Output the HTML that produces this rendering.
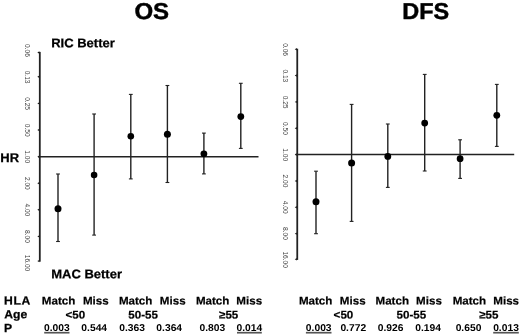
<!DOCTYPE html>
<html lang="en"><head><meta charset="utf-8"><title>OS / DFS forest plot</title>
<style>html,body{margin:0;padding:0;background:#fff;}body{width:520px;height:334px;overflow:hidden;}svg{display:block;filter:blur(0.4px);}text{font-family:"Liberation Sans", sans-serif;fill:#000;}.b{font-weight:bold;}.t{font-size:23px;font-weight:bold;stroke:#000;stroke-width:0.45px;}.l{font-size:12.5px;font-weight:bold;stroke:#000;stroke-width:0.25px;}.h{font-size:11.1px;font-weight:bold;stroke:#000;stroke-width:0.2px;}.p{font-size:9.9px;font-weight:bold;}.k{font-size:6.6px;fill:#444;}.ln{stroke:#222;fill:none;}</style></head><body>
<svg width="520" height="334" viewBox="0 0 520 334">
<rect width="520" height="334" fill="#fff"/>
<line class="ln" x1="39.80" y1="51.90" x2="39.80" y2="261.70" stroke-width="1.8"/>
<polygon fill="#1a1a1a" points="39.40,51.30 37.30,52.50 39.40,53.70"/>
<text class="k" text-anchor="middle" transform="translate(25.00 50.50) rotate(90) scale(1.0 1)">0.06</text>
<polygon fill="#1a1a1a" points="39.40,75.60 37.30,76.80 39.40,78.00"/>
<text class="k" text-anchor="middle" transform="translate(25.00 77.06) rotate(90) scale(1.0 1)">0.13</text>
<polygon fill="#1a1a1a" points="39.40,102.20 37.30,103.40 39.40,104.60"/>
<text class="k" text-anchor="middle" transform="translate(25.00 103.62) rotate(90) scale(1.0 1)">0.25</text>
<polygon fill="#1a1a1a" points="39.40,128.80 37.30,130.00 39.40,131.20"/>
<text class="k" text-anchor="middle" transform="translate(25.00 130.19) rotate(90) scale(1.0 1)">0.50</text>
<polygon fill="#1a1a1a" points="39.40,155.40 37.30,156.60 39.40,157.80"/>
<text class="k" text-anchor="middle" transform="translate(25.00 156.75) rotate(90) scale(1.0 1)">1.00</text>
<polygon fill="#1a1a1a" points="39.40,182.00 37.30,183.20 39.40,184.40"/>
<text class="k" text-anchor="middle" transform="translate(25.00 183.31) rotate(90) scale(1.0 1)">2.00</text>
<polygon fill="#1a1a1a" points="39.40,208.60 37.30,209.80 39.40,211.00"/>
<text class="k" text-anchor="middle" transform="translate(25.00 209.88) rotate(90) scale(1.0 1)">4.00</text>
<polygon fill="#1a1a1a" points="39.40,235.20 37.30,236.40 39.40,237.60"/>
<text class="k" text-anchor="middle" transform="translate(25.00 236.44) rotate(90) scale(1.0 1)">8.00</text>
<polygon fill="#1a1a1a" points="39.40,259.90 37.30,261.10 39.40,262.30"/>
<text class="k" text-anchor="middle" transform="translate(25.00 263.00) rotate(90) scale(1.0 1)">16.00</text>
<line class="ln" x1="38.00" y1="156.70" x2="258.50" y2="156.70" stroke-width="1.5" stroke="#111"/>
<line class="ln" x1="58.00" y1="174.00" x2="58.00" y2="241.50" stroke-width="1.4"/>
<line class="ln" x1="56.10" y1="174.00" x2="59.90" y2="174.00" stroke-width="1.1"/>
<line class="ln" x1="56.10" y1="241.50" x2="59.90" y2="241.50" stroke-width="1.1"/>
<circle cx="58.00" cy="208.70" r="3.50" fill="#000"/>
<line class="ln" x1="94.10" y1="114.00" x2="94.10" y2="235.10" stroke-width="1.4"/>
<line class="ln" x1="92.20" y1="114.00" x2="96.00" y2="114.00" stroke-width="1.1"/>
<line class="ln" x1="92.20" y1="235.10" x2="96.00" y2="235.10" stroke-width="1.1"/>
<circle cx="94.10" cy="175.00" r="3.30" fill="#000"/>
<line class="ln" x1="130.80" y1="94.40" x2="130.80" y2="178.90" stroke-width="1.4"/>
<line class="ln" x1="128.90" y1="94.40" x2="132.70" y2="94.40" stroke-width="1.1"/>
<line class="ln" x1="128.90" y1="178.90" x2="132.70" y2="178.90" stroke-width="1.1"/>
<circle cx="130.80" cy="136.30" r="3.30" fill="#000"/>
<line class="ln" x1="167.40" y1="85.50" x2="167.40" y2="182.50" stroke-width="1.4"/>
<line class="ln" x1="165.50" y1="85.50" x2="169.30" y2="85.50" stroke-width="1.1"/>
<line class="ln" x1="165.50" y1="182.50" x2="169.30" y2="182.50" stroke-width="1.1"/>
<circle cx="167.40" cy="134.30" r="3.50" fill="#000"/>
<line class="ln" x1="203.90" y1="133.10" x2="203.90" y2="173.90" stroke-width="1.4"/>
<line class="ln" x1="202.00" y1="133.10" x2="205.80" y2="133.10" stroke-width="1.1"/>
<line class="ln" x1="202.00" y1="173.90" x2="205.80" y2="173.90" stroke-width="1.1"/>
<circle cx="203.90" cy="153.80" r="3.40" fill="#000"/>
<line class="ln" x1="240.80" y1="83.30" x2="240.80" y2="148.40" stroke-width="1.4"/>
<line class="ln" x1="238.90" y1="83.30" x2="242.70" y2="83.30" stroke-width="1.1"/>
<line class="ln" x1="238.90" y1="148.40" x2="242.70" y2="148.40" stroke-width="1.1"/>
<circle cx="240.80" cy="116.60" r="3.40" fill="#000"/>
<line class="ln" x1="297.25" y1="48.70" x2="297.25" y2="259.90" stroke-width="1.8"/>
<polygon fill="#1a1a1a" points="296.85,48.10 294.75,49.30 296.85,50.50"/>
<text class="k" text-anchor="middle" transform="translate(282.50 49.60) rotate(90) scale(1.0 1)">0.06</text>
<polygon fill="#1a1a1a" points="296.85,74.35 294.75,75.55 296.85,76.75"/>
<text class="k" text-anchor="middle" transform="translate(282.50 75.86) rotate(90) scale(1.0 1)">0.13</text>
<polygon fill="#1a1a1a" points="296.85,100.70 294.75,101.90 296.85,103.10"/>
<text class="k" text-anchor="middle" transform="translate(282.50 102.12) rotate(90) scale(1.0 1)">0.25</text>
<polygon fill="#1a1a1a" points="296.85,127.05 294.75,128.25 296.85,129.45"/>
<text class="k" text-anchor="middle" transform="translate(282.50 128.39) rotate(90) scale(1.0 1)">0.50</text>
<polygon fill="#1a1a1a" points="296.85,153.40 294.75,154.60 296.85,155.80"/>
<text class="k" text-anchor="middle" transform="translate(282.50 154.65) rotate(90) scale(1.0 1)">1.00</text>
<polygon fill="#1a1a1a" points="296.85,179.75 294.75,180.95 296.85,182.15"/>
<text class="k" text-anchor="middle" transform="translate(282.50 180.91) rotate(90) scale(1.0 1)">2.00</text>
<polygon fill="#1a1a1a" points="296.85,206.10 294.75,207.30 296.85,208.50"/>
<text class="k" text-anchor="middle" transform="translate(282.50 207.17) rotate(90) scale(1.0 1)">4.00</text>
<polygon fill="#1a1a1a" points="296.85,232.45 294.75,233.65 296.85,234.85"/>
<text class="k" text-anchor="middle" transform="translate(282.50 233.44) rotate(90) scale(1.0 1)">8.00</text>
<polygon fill="#1a1a1a" points="296.85,258.10 294.75,259.30 296.85,260.50"/>
<text class="k" text-anchor="middle" transform="translate(282.50 259.70) rotate(90) scale(1.0 1)">16.00</text>
<line class="ln" x1="295.50" y1="154.60" x2="514.20" y2="154.60" stroke-width="1.5" stroke="#111"/>
<line class="ln" x1="316.00" y1="171.20" x2="316.00" y2="233.70" stroke-width="1.4"/>
<line class="ln" x1="314.10" y1="171.20" x2="317.90" y2="171.20" stroke-width="1.1"/>
<line class="ln" x1="314.10" y1="233.70" x2="317.90" y2="233.70" stroke-width="1.1"/>
<circle cx="316.00" cy="201.80" r="3.50" fill="#000"/>
<line class="ln" x1="351.60" y1="104.40" x2="351.60" y2="221.40" stroke-width="1.4"/>
<line class="ln" x1="349.70" y1="104.40" x2="353.50" y2="104.40" stroke-width="1.1"/>
<line class="ln" x1="349.70" y1="221.40" x2="353.50" y2="221.40" stroke-width="1.1"/>
<circle cx="351.60" cy="162.90" r="3.50" fill="#000"/>
<line class="ln" x1="387.80" y1="124.00" x2="387.80" y2="187.40" stroke-width="1.4"/>
<line class="ln" x1="385.90" y1="124.00" x2="389.70" y2="124.00" stroke-width="1.1"/>
<line class="ln" x1="385.90" y1="187.40" x2="389.70" y2="187.40" stroke-width="1.1"/>
<circle cx="387.80" cy="156.40" r="3.40" fill="#000"/>
<line class="ln" x1="424.70" y1="74.40" x2="424.70" y2="171.00" stroke-width="1.4"/>
<line class="ln" x1="422.80" y1="74.40" x2="426.60" y2="74.40" stroke-width="1.1"/>
<line class="ln" x1="422.80" y1="171.00" x2="426.60" y2="171.00" stroke-width="1.1"/>
<circle cx="424.70" cy="123.10" r="3.40" fill="#000"/>
<line class="ln" x1="460.10" y1="139.80" x2="460.10" y2="178.40" stroke-width="1.4"/>
<line class="ln" x1="458.20" y1="139.80" x2="462.00" y2="139.80" stroke-width="1.1"/>
<line class="ln" x1="458.20" y1="178.40" x2="462.00" y2="178.40" stroke-width="1.1"/>
<circle cx="460.10" cy="158.70" r="3.40" fill="#000"/>
<line class="ln" x1="496.80" y1="84.40" x2="496.80" y2="146.40" stroke-width="1.4"/>
<line class="ln" x1="494.90" y1="84.40" x2="498.70" y2="84.40" stroke-width="1.1"/>
<line class="ln" x1="494.90" y1="146.40" x2="498.70" y2="146.40" stroke-width="1.1"/>
<circle cx="496.80" cy="115.30" r="3.40" fill="#000"/>
<text class="t" transform="translate(134.40 19.00) rotate(0.06) scale(1.045 1)">OS</text>
<text class="t" transform="translate(402.20 19.00) rotate(0.06) scale(1.02 1)">DFS</text>
<text class="l" transform="translate(51.20 47.30) rotate(0.06) scale(1.04 1)">RIC Better</text>
<text class="l" transform="translate(51.20 278.30) rotate(0.06) scale(1.04 1)">MAC Better</text>
<text class="l" transform="translate(0.30 162.00) rotate(0.06) scale(1.04 1)">HR</text>
<text class="l" style="font-size:11.7px;letter-spacing:0.7px" transform="translate(3.90 304.50) rotate(0.06) scale(1.04 1)">HLA</text>
<text class="l" style="font-size:11.7px" transform="translate(4.30 318.30) rotate(0.06) scale(1.04 1)">Age</text>
<text class="l" style="font-size:11.7px" transform="translate(4.10 331.90) rotate(0.06) scale(1.04 1)">P</text>
<text class="h" text-anchor="middle" transform="translate(58.60 304.50) rotate(0.06) scale(1.045 1)">Match</text>
<text class="h" text-anchor="middle" transform="translate(95.80 304.50) rotate(0.06) scale(1.045 1)">Miss</text>
<text class="h" text-anchor="middle" transform="translate(135.65 304.50) rotate(0.06) scale(1.045 1)">Match</text>
<text class="h" text-anchor="middle" transform="translate(172.70 304.50) rotate(0.06) scale(1.045 1)">Miss</text>
<text class="h" text-anchor="middle" transform="translate(212.65 304.50) rotate(0.06) scale(1.045 1)">Match</text>
<text class="h" text-anchor="middle" transform="translate(249.25 304.50) rotate(0.06) scale(1.045 1)">Miss</text>
<text class="h" text-anchor="middle" transform="translate(315.65 304.50) rotate(0.06) scale(1.045 1)">Match</text>
<text class="h" text-anchor="middle" transform="translate(352.70 304.50) rotate(0.06) scale(1.045 1)">Miss</text>
<text class="h" text-anchor="middle" transform="translate(392.25 304.50) rotate(0.06) scale(1.045 1)">Match</text>
<text class="h" text-anchor="middle" transform="translate(429.00 304.50) rotate(0.06) scale(1.045 1)">Miss</text>
<text class="h" text-anchor="middle" transform="translate(469.40 304.50) rotate(0.06) scale(1.045 1)">Match</text>
<text class="h" text-anchor="middle" transform="translate(506.15 304.50) rotate(0.06) scale(1.045 1)">Miss</text>
<text class="h" text-anchor="middle" transform="translate(75.40 318.40) rotate(0.06) scale(1.045 1)">&lt;50</text>
<text class="h" text-anchor="middle" transform="translate(143.10 318.40) rotate(0.06) scale(1.045 1)">50-55</text>
<text class="h" text-anchor="middle" transform="translate(228.65 318.40) rotate(0.06) scale(1.045 1)">≥55</text>
<text class="h" text-anchor="middle" transform="translate(343.45 318.40) rotate(0.06) scale(1.045 1)">&lt;50</text>
<text class="h" text-anchor="middle" transform="translate(411.40 318.40) rotate(0.06) scale(1.045 1)">50-55</text>
<text class="h" text-anchor="middle" transform="translate(488.85 318.40) rotate(0.06) scale(1.045 1)">≥55</text>
<text class="p" text-anchor="middle" transform="translate(56.85 331.10) rotate(0.06) scale(1.04 1)">0.003</text>
<line x1="44.20" y1="332.7" x2="69.50" y2="332.7" stroke="#555" stroke-width="1.7"/>
<text class="p" text-anchor="middle" transform="translate(94.20 331.10) rotate(0.06) scale(1.04 1)">0.544</text>
<text class="p" text-anchor="middle" transform="translate(132.05 331.10) rotate(0.06) scale(1.04 1)">0.363</text>
<text class="p" text-anchor="middle" transform="translate(169.20 331.10) rotate(0.06) scale(1.04 1)">0.364</text>
<text class="p" text-anchor="middle" transform="translate(212.30 331.10) rotate(0.06) scale(1.04 1)">0.803</text>
<text class="p" text-anchor="middle" transform="translate(249.40 331.10) rotate(0.06) scale(1.04 1)">0.014</text>
<line x1="237.00" y1="332.7" x2="261.80" y2="332.7" stroke="#555" stroke-width="1.7"/>
<text class="p" text-anchor="middle" transform="translate(318.70 331.10) rotate(0.06) scale(1.04 1)">0.003</text>
<line x1="305.90" y1="332.7" x2="331.50" y2="332.7" stroke="#555" stroke-width="1.7"/>
<text class="p" text-anchor="middle" transform="translate(353.25 331.10) rotate(0.06) scale(1.04 1)">0.772</text>
<text class="p" text-anchor="middle" transform="translate(390.65 331.10) rotate(0.06) scale(1.04 1)">0.926</text>
<text class="p" text-anchor="middle" transform="translate(428.10 331.10) rotate(0.06) scale(1.04 1)">0.194</text>
<text class="p" text-anchor="middle" transform="translate(468.50 331.10) rotate(0.06) scale(1.04 1)">0.650</text>
<text class="p" text-anchor="middle" transform="translate(506.00 331.10) rotate(0.06) scale(1.04 1)">0.013</text>
<line x1="493.20" y1="332.7" x2="518.80" y2="332.7" stroke="#555" stroke-width="1.7"/>
</svg></body></html>
